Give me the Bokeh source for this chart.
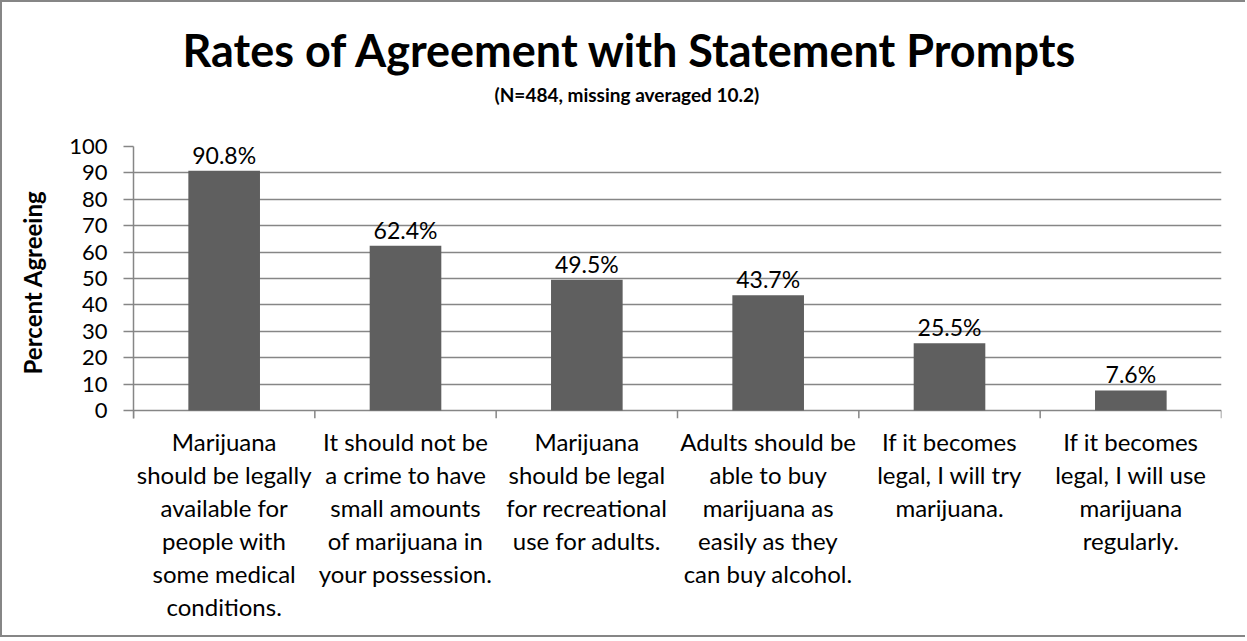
from bokeh.plotting import figure
from bokeh.models import Range1d, FactorRange, FixedTicker, Title, ColumnDataSource
from bokeh.core.properties import value
from bokeh.embed import file_html
from bokeh.resources import INLINE

categories = [
    "Marijuana\nshould be legally\navailable for\npeople with\nsome medical\nconditions.",
    "It should not be\na crime to have\nsmall amounts\nof marijuana in\nyour possession.",
    "Marijuana\nshould be legal\nfor recreational\nuse for adults.",
    "Adults should be\nable to buy\nmarijuana as\neasily as they\ncan buy alcohol.",
    "If it becomes\nlegal, I will try\nmarijuana.",
    "If it becomes\nlegal, I will use\nmarijuana\nregularly.",
]
percent_agreeing = [90.8, 62.4, 49.5, 43.7, 25.5, 7.6]
y_ticks = [0, 10, 20, 30, 40, 50, 60, 70, 80, 90, 100]
title_text = "Rates of Agreement with Statement Prompts"
subtitle_text = "(N=484, missing averaged 10.2)"
y_title = "Percent Agreeing"

FONT = "Lato"
GRID = "#868686"
BAR = "#5f5f5f"

p = figure(
    width=1245, height=637,
    x_range=FactorRange(*categories),
    y_range=Range1d(-3.03, 100),
    output_backend="svg", toolbar_location=None,
    min_border_left=131, min_border_right=26,
    min_border_top=144, min_border_bottom=221,
)
p.styles = {"border-left": "2px solid #868686", "border-top": "2px solid #868686",
            "border-bottom": "2px solid #868686"}

p.add_layout(Title(text=subtitle_text, align="left", text_font=FONT,
                   text_font_size="19px", text_font_style="bold",
                   text_color="black", standoff=82, offset=361), "above")
p.add_layout(Title(text=title_text, align="left", text_font=FONT,
                   text_font_size="45px", text_font_style="bold",
                   text_color="black", standoff=-74, offset=49), "above")

p.outline_line_color = None
p.background_fill_color = "white"
p.border_fill_color = "white"

# y axis
p.yaxis.ticker = FixedTicker(ticks=y_ticks)
p.yaxis.axis_line_color = GRID
p.yaxis.axis_line_width = 1.5
p.yaxis.major_tick_line_color = GRID
p.yaxis.major_tick_line_width = 1.5
p.yaxis.major_tick_out = 10
p.yaxis.major_tick_in = 0
p.yaxis.minor_tick_line_color = None
p.yaxis.major_label_text_font = FONT
p.yaxis.major_label_text_font_size = "22px"
p.yaxis.major_label_text_color = "black"
p.yaxis.major_label_standoff = 16
p.yaxis.axis_label = y_title
p.yaxis.axis_label_text_font = FONT
p.yaxis.axis_label_text_font_size = "24px"
p.yaxis.axis_label_text_font_style = "bold"
p.yaxis.axis_label_text_color = "black"
p.yaxis.axis_label_standoff = 19

p.ygrid.ticker = FixedTicker(ticks=y_ticks)
p.ygrid.grid_line_color = GRID
p.ygrid.grid_line_width = 1.5
p.xgrid.grid_line_color = None

# x axis (category labels)
p.xaxis.axis_line_color = None
p.xaxis.major_tick_line_color = None
p.xaxis.major_tick_out = 0
p.xaxis.minor_tick_line_color = None
p.xaxis.major_label_text_font = FONT
p.xaxis.major_label_text_font_size = "24px"
p.xaxis.major_label_text_color = "black"
p.xaxis.major_label_text_line_height = 1.14
p.xaxis.major_label_standoff = 8
p.xaxis.major_label_orientation = "horizontal"

src = ColumnDataSource(dict(
    cat=categories,
    val=percent_agreeing,
    lab=[f"{v:.1f}%" for v in percent_agreeing],
))
p.vbar(x="cat", top="val", bottom=0, width=0.395, source=src,
       fill_color=BAR, line_color=None)
p.text(x="cat", y="val", text="lab", source=src, text_align="center",
       text_baseline="bottom", y_offset=-2, text_font=value(FONT),
       text_font_size="23px", text_color="black")

# category separator ticks below the zero line
n = len(categories)
bounds = list(range(n + 1))
p.segment(x0=bounds, y0=[0] * (n + 1), x1=bounds, y1=[-3.03] * (n + 1),
          line_color=GRID, line_width=1.5)

open("out.html", "w").write(file_html(p, INLINE))
